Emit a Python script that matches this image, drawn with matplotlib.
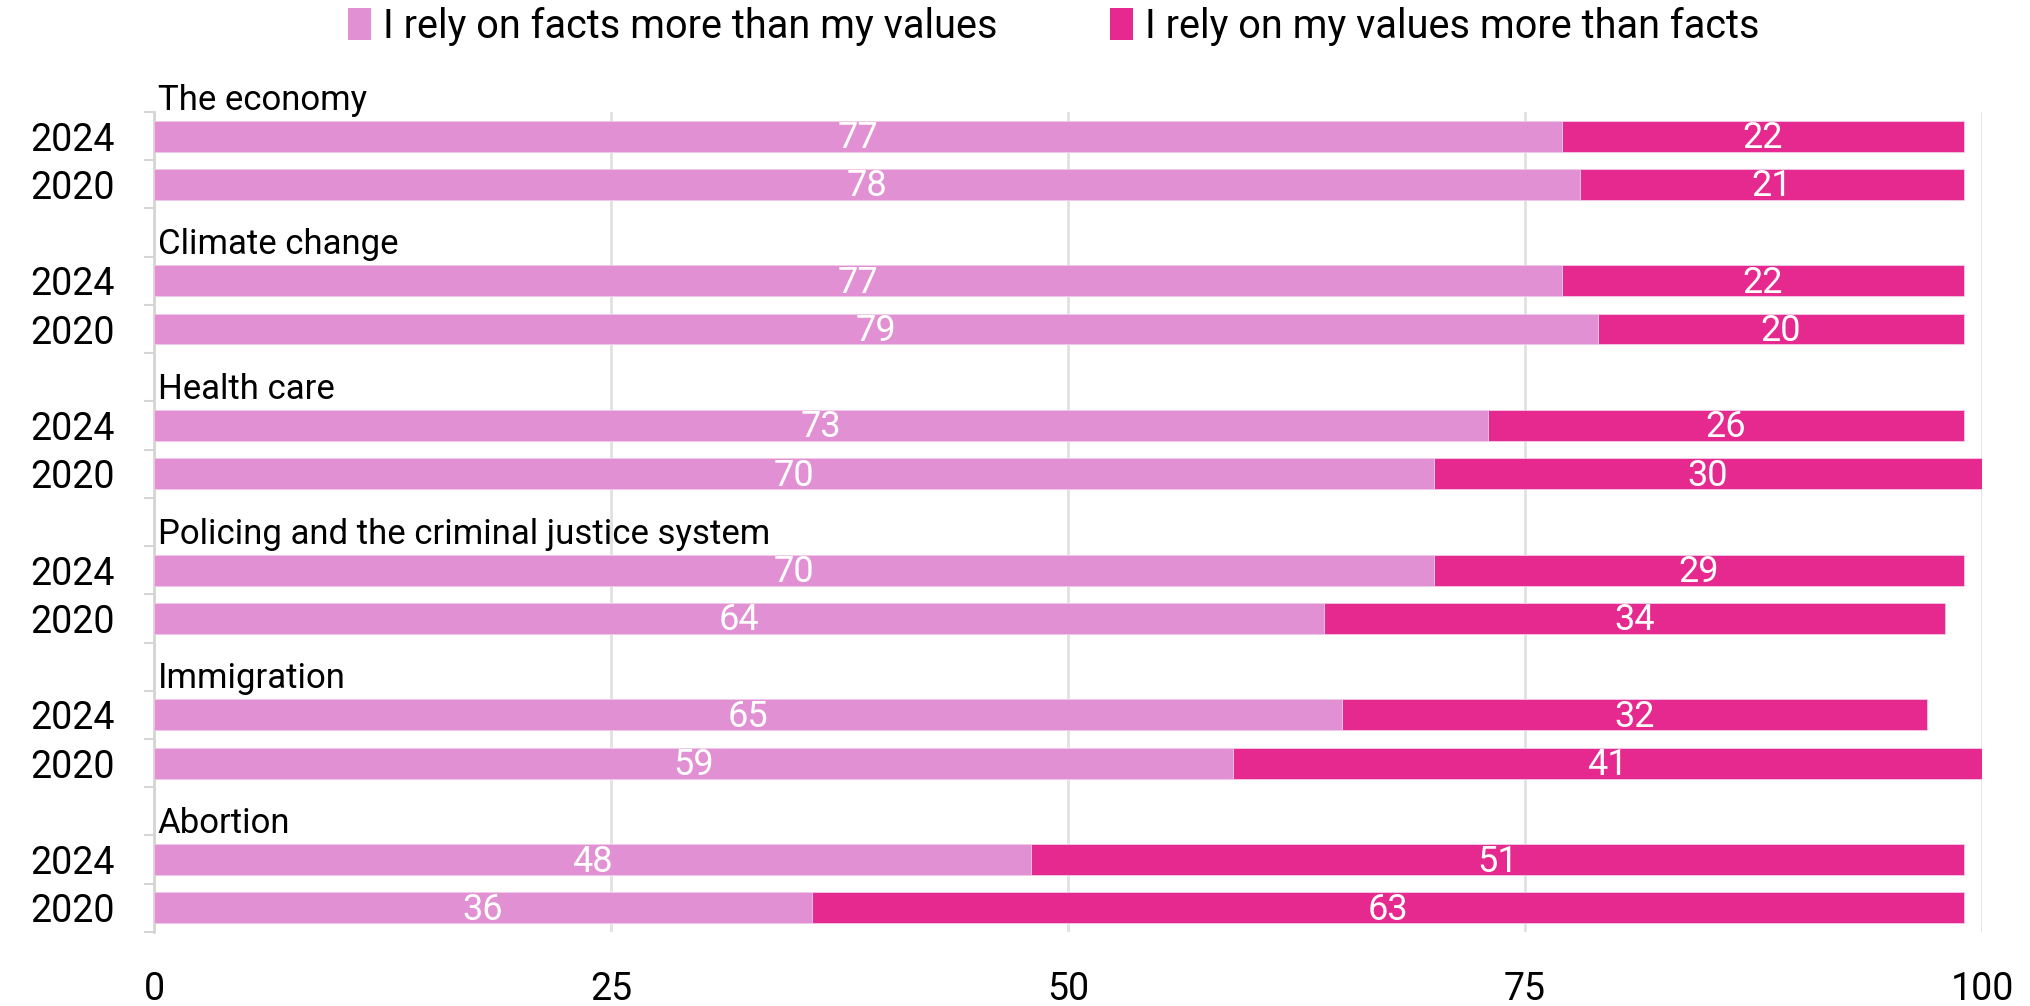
import numpy as np
import matplotlib.pyplot as plt
from matplotlib.patches import Patch

# -------------------------------
# Data
# -------------------------------
topics = ["The economy", "Climate change", "Health care",
          "Policing and the criminal justice system", "Immigration", "Abortion"]
years = ["2024", "2020"]
facts_2024 = [77, 77, 73, 70, 65, 48]
facts_2020 = [78, 79, 70, 64, 59, 36]
values_2024 = [22, 22, 26, 29, 32, 51]
values_2020 = [21, 20, 30, 34, 41, 63]
series_names = ["I rely on facts more than my values",
                "I rely on my values more than facts"]
x_ticks = [0, 25, 50, 75, 100]

# -------------------------------
# Style
# -------------------------------
plt.rcParams["font.family"] = ["Roboto", "DejaVu Sans"]
color_facts = "#e290d4"
color_values = "#e6298f"
grid_col = "#e1e1e1"
fs = 27

fig = plt.figure(figsize=(20.31, 10.06), dpi=100)
ax = fig.add_axes([0.0758, 0.0736, 0.9001, 0.8151])

# row layout: each topic gets 3 rows (label row, 2024, 2020); first label row sits above axes
bar_h = 0.64
ypos, facts, vals, ylabels = [], [], [], []
for g in range(len(topics)):
    for i, (f, v) in enumerate([(facts_2024[g], values_2024[g]),
                                (facts_2020[g], values_2020[g])]):
        ypos.append(3 * g + i)
        facts.append(f)
        vals.append(v)
        ylabels.append(years[i])
ypos = np.array(ypos)
facts = np.array(facts)
vals = np.array(vals)

ax.barh(ypos, facts, height=bar_h, color=color_facts, zorder=3,
        edgecolor="#f3c9ea", linewidth=0.6)
ax.barh(ypos, vals, left=facts, height=bar_h, color=color_values, zorder=3,
        edgecolor="#f3c9ea", linewidth=0.6)

for y, f, v in zip(ypos, facts, vals):
    ax.text(f / 2, y + 0.04, str(f), ha="center", va="center", color="white",
            fontsize=fs - 1, zorder=4)
    ax.text(f + v / 2, y + 0.04, str(v), ha="center", va="center", color="white",
            fontsize=fs - 1, zorder=4)

for g, t in enumerate(topics):
    ax.text(0.2, 3 * g - 0.55, t, ha="left", va="baseline", fontsize=25,
            color="black", clip_on=False)

ax.set_xlim(0, 100)
n_rows = 3 * len(topics) - 1
ax.set_ylim(n_rows - 0.5, -0.5)

ax.set_yticks(ypos)
ax.set_yticklabels(ylabels, fontsize=fs)
ax.set_yticks(np.arange(-0.5, n_rows, 1.0), minor=True)
ax.tick_params(axis="y", which="major", length=0, pad=28)
ax.tick_params(axis="y", which="minor", length=7, width=1.5, color="#d5d5d5")

ax.set_xticks(x_ticks)
ax.set_xticklabels([str(t) for t in x_ticks], fontsize=fs)
ax.tick_params(axis="x", length=0, pad=28)

ax.grid(axis="x", color=grid_col, linewidth=2, zorder=0)
for s in ["top", "right", "bottom"]:
    ax.spines[s].set_visible(False)
ax.spines["left"].set_color("#d5d5d5")
ax.spines["left"].set_linewidth(2)

handles = [Patch(facecolor=color_facts), Patch(facecolor=color_values)]
fig.legend(handles, series_names, loc="center", bbox_to_anchor=(0.519, 0.974),
           ncol=2, frameon=False, fontsize=28.5, handlelength=0.58, handleheight=0.85,
           handletextpad=0.3, columnspacing=2.85, borderaxespad=0)

fig.savefig("out.png", dpi=100)
